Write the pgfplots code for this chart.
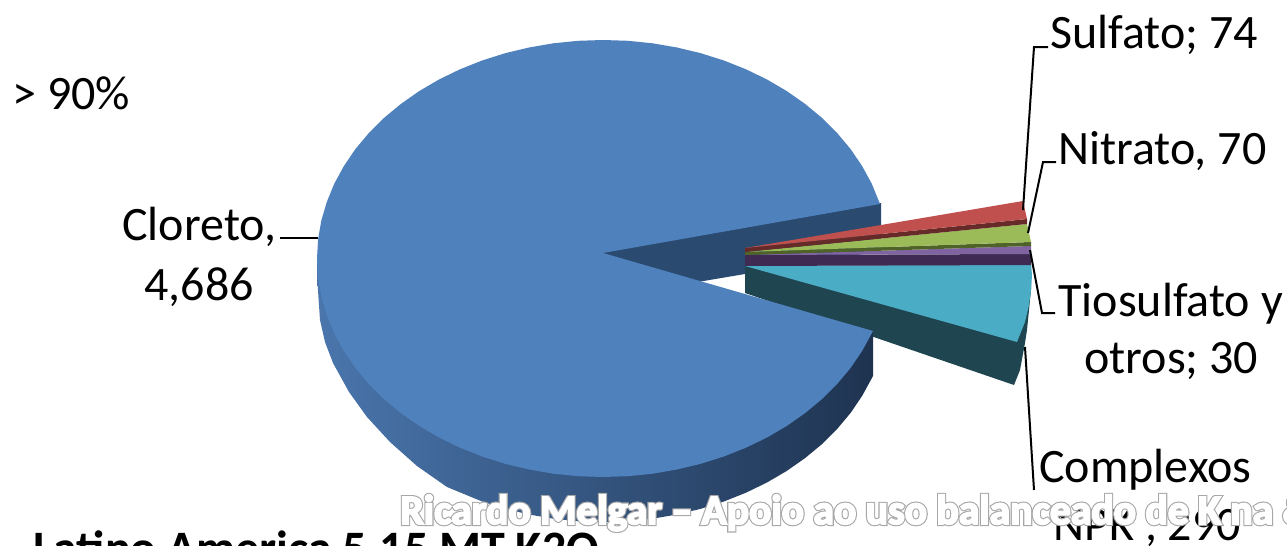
\documentclass[border=0pt]{standalone}
\usepackage{fontspec}
\setmainfont{Carlito}
\usepackage{pgfplots}
\pgfplotsset{compat=1.18}
\definecolor{blueTop}{HTML}{4F81BD}
\definecolor{blueCut}{HTML}{2A4A70}
\definecolor{blueEdge}{HTML}{4A76AD}
\definecolor{blueDeep}{HTML}{1E3350}
\definecolor{redTop}{HTML}{C0504D}
\definecolor{redSide}{HTML}{662A28}
\definecolor{greenTop}{HTML}{9BBB59}
\definecolor{greenSide}{HTML}{4F6228}
\definecolor{purpleTop}{HTML}{8064A2}
\definecolor{purpleSide}{HTML}{3F2A54}
\definecolor{tealTop}{HTML}{4BACC6}
\definecolor{tealSide}{HTML}{1F4550}
\newcommand{\labelfont}{\fontsize{24}{28}\selectfont}
\newcommand{\bannertext}{Ricardo Melgar – Apoio ao uso balanceado de K na \&}
\begin{document}
\begin{tikzpicture}
\useasboundingbox (0,0) rectangle (643.5pt,273pt);
\clip (0,0) rectangle (643.5pt,273pt);
\begin{axis}[
    hide axis,
    scale only axis,
    width=643.5pt,
    height=273pt,
    xmin=0, xmax=1287,
    ymin=0, ymax=546,
    y dir=reverse,
    clip=false,
]
% cut face of the big slice, behind everything
\addplot[fill=blueCut, draw=none] coordinates {
    (600,250) (881,203) (881,251) (603,298)
} -- cycle;

% exploded slices
\addplot[fill=tealSide, draw=none] coordinates {
    (745,266) (1031,265) (1031,290) (1027,330) (1025,343) (1020,370) (1014,385) (745,293)
} -- cycle;
\addplot[fill=tealTop, draw=none] coordinates {
    (745,266) (1031,265) (1032,275) (1031,290) (1029,305) (1025,322) (1017,342)
} -- cycle;
\addplot[fill=purpleSide, draw=none] coordinates {
    (745,255) (1031,254) (1031,265) (745,266)
} -- cycle;
\addplot[fill=purpleTop, draw=none] coordinates {
    (745,255) (1031,246) (1031,254)
} -- cycle;
\addplot[fill=greenSide, draw=none] coordinates {
    (745,252) (1031,242) (1031,246) (745,255)
} -- cycle;
\addplot[fill=greenTop, draw=none] coordinates {
    (745,252) (1027,224) (1029,233) (1031,242)
} -- cycle;
\addplot[fill=redSide, draw=none] coordinates {
    (745,248) (1027,219) (1027,224) (745,252)
} -- cycle;
\addplot[fill=redTop, draw=none] coordinates {
    (745,248) (1023,201) (1025,210) (1027,219)
} -- cycle;

% rim of the big slice
\addplot[draw=none, left color=blueEdge, middle color=blueDeep, right color=blueDeep] coordinates {
    (317,258.5) (317.5,283) (320,320) (325,342) (333,363) (349,392) (367,417)
    (390,442) (417,466) (447,487) (482.1,501.5) (505.2,508.8) (529,514.5) (553.4,518.7)
    (578.1,521.2) (603,522) (627.9,521.2) (652.6,518.7) (677,514.5) (700.8,508.8)
    (723.9,501.5) (746,492.7) (767,482.5) (786.8,470.9) (805.2,458) (822.1,444)
    (837.3,428.8) (850.7,412.8) (862.2,395.8) (871.8,378.2) (873,376) (873,331)
} -- cycle;

% top of the big slice
\addplot[fill=blueTop, draw=none] coordinates {
    (603,253) (880,204) (879.2,202) (871.8,183.8) (862.2,166.2) (850.7,149.2)
    (837.3,133.2) (822.1,118) (805.2,104) (786.8,91.1) (767,79.5) (746,69.3)
    (723.9,60.5) (700.8,53.2) (677,47.5) (652.6,43.3) (627.9,40.8) (603,40)
    (578.1,40.8) (553.4,43.3) (529,47.5) (505.2,53.2) (482.1,60.5) (460,69.3)
    (439,79.5) (419.2,91.1) (400.8,104) (383.9,118) (368.7,133.2) (355.3,149.2)
    (343.8,166.2) (334.2,183.8) (326.8,202) (321.3,220.6) (318.1,239.4) (317,258.5)
    (318.1,277.6) (321.3,296.4) (326.8,315) (334.2,333.2) (343.8,350.8) (355.3,367.8)
    (368.7,383.8) (383.9,399) (400.8,413) (419.2,425.9) (439,437.5) (460,447.7)
    (482.1,456.5) (505.2,463.8) (529,469.5) (553.4,473.7) (578.1,476.2) (603,477)
    (627.9,476.2) (652.6,473.7) (677,469.5) (700.8,463.8) (723.9,456.5) (746,447.7)
    (767,437.5) (786.8,425.9) (805.2,413) (822.1,399) (837.3,383.8) (850.7,367.8)
    (862.2,350.8) (871.8,333.2) (873,331)
} -- cycle;

% leader lines
\addplot[black, line width=1pt] coordinates {(280,238) (318,238)};
\addplot[black, line width=1pt] coordinates {(1023,210) (1034,47) (1048,47)};
\addplot[black, line width=1pt] coordinates {(1028,233) (1043,162) (1056,162)};
\addplot[black, line width=1pt] coordinates {(1030,250) (1042,313) (1055,313)};
\addplot[black, line width=1pt] coordinates {(1025,347) (1034,490)};

% labels
\node[anchor=base west, inner sep=0pt, font=\labelfont] at (12,109) {> 90\%};
\node[anchor=base west, inner sep=0pt, font=\labelfont] at (122,240) {Cloreto,};
\node[anchor=base west, inner sep=0pt, font=\labelfont] at (144,300) {4,686};
\node[anchor=base west, inner sep=0pt, font=\labelfont] at (1050,48) {Sulfato; 74};
\node[anchor=base west, inner sep=0pt, font=\labelfont] at (1058,164) {Nitrato, 70};
\node[anchor=base west, inner sep=0pt, font=\labelfont] at (1058,316) {Tiosulfato y};
\node[anchor=base west, inner sep=0pt, font=\labelfont] at (1084,373) {otros; 30};
\node[anchor=base west, inner sep=0pt, font=\labelfont] at (1039,482) {Complexos};
\node[anchor=base west, inner sep=0pt, font=\labelfont] at (1053,540) {NPK , 290};
\node[anchor=base west, inner sep=0pt, font=\fontsize{24}{28}\selectfont\bfseries] at (33,564) {Latino America 5,15 MT K2O};

% footer banner: grey outline under white letters
\node[anchor=base west, inner sep=0pt, font=\fontsize{20.8}{24}\selectfont\bfseries, text=white] at (400,524)
    {\special{pdf:code q 2 Tr 2 w 0.66 0.66 0.66 RG 1 1 1 rg}\bannertext\special{pdf:code Q}};
\node[anchor=base west, inner sep=0pt, font=\fontsize{20.8}{24}\selectfont\bfseries, text=white] at (400,524)
    {\special{pdf:code q 2 Tr 0.9 w 1 1 1 RG 1 1 1 rg}\bannertext\special{pdf:code Q}};
\end{axis}
\end{tikzpicture}
\end{document}
